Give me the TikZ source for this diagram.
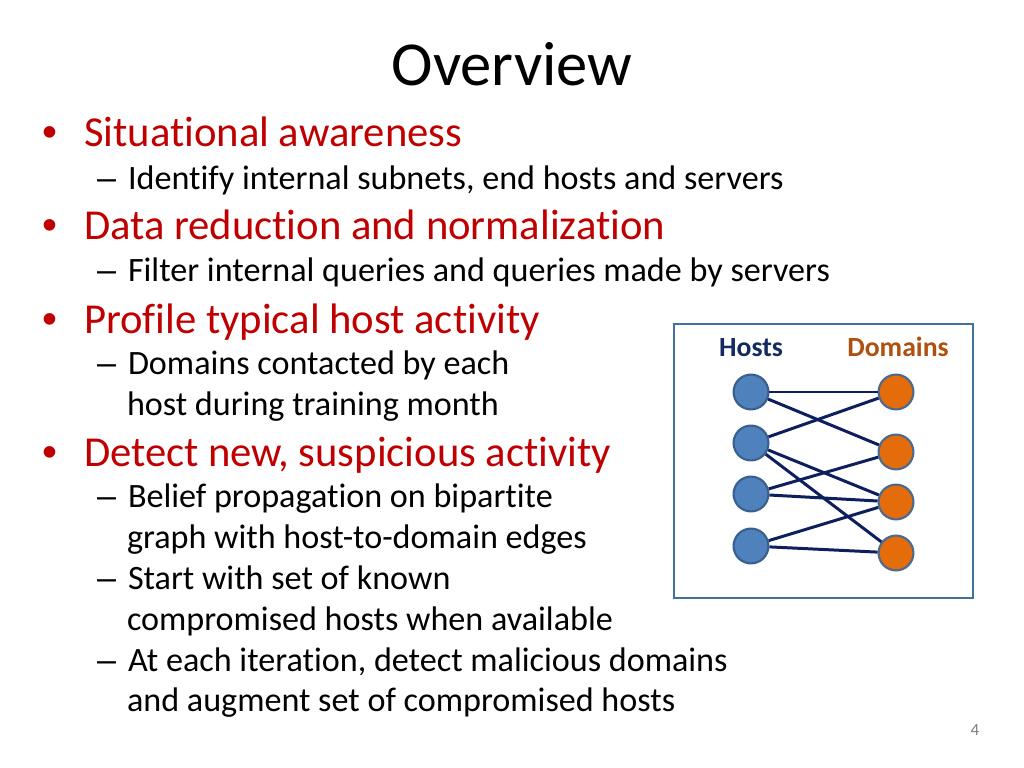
\documentclass[tikz,border=0pt]{standalone}
\usepackage{fontspec}
\setmainfont{Carlito}[RawFeature=-liga]
\newfontfamily\bulfont{Liberation Sans}
\definecolor{redtxt}{HTML}{C00000}
\definecolor{hostcol}{HTML}{4F81BD}
\definecolor{hostbd}{HTML}{3A5F8F}
\definecolor{domcol}{HTML}{E46C0A}
\definecolor{dombd}{HTML}{4A6A8F}
\definecolor{edgecol}{HTML}{0E1F5E}
\definecolor{hostlab}{HTML}{132C60}
\definecolor{domlab}{HTML}{B0500E}
\definecolor{boxbd}{HTML}{41719C}
\begin{document}
\begin{tikzpicture}[x=0.703125pt,y=-0.703125pt,
  txt/.style={anchor=base west,inner sep=0pt,outer sep=0pt},
  lone/.style={txt,text=redtxt,font=\fontsize{30}{36}\selectfont},
  ltwo/.style={txt,text=black,font=\fontsize{24}{29}\selectfont},
  bul/.style={txt,text=redtxt,font=\bulfont\fontsize{30}{36}\selectfont},
  dsh/.style={txt,text=black,font=\bulfont\fontsize{24}{29}\selectfont},
  host/.style={circle,draw=hostbd,line width=1.5pt,fill=hostcol,minimum size=24.5pt,inner sep=0pt},
  dom/.style={circle,draw=dombd,line width=1.5pt,fill=domcol,minimum size=24.5pt,inner sep=0pt},
  edge/.style={draw=edgecol,line width=2.1pt}]
\useasboundingbox (0,0) rectangle (1024,768);
\fill[white] (0,0) rectangle (1024,768);
\node[anchor=base,inner sep=0pt,font=\fontsize{44}{52}\selectfont] (title) at (512,86) {Overview};
% level 1
\node[bul] (b1) at (42,147) {•};
\node[lone] (t1) at (84,147) {Situational awareness};
\node[dsh] (d1) at (97,190) {–};
\node[ltwo] (s1) at (128,190) {Identify internal subnets, end hosts and servers};
\node[bul] (b2) at (42,240) {•};
\node[lone] (t2) at (84,240) {Data reduction and normalization};
\node[dsh] (d2) at (97,282) {–};
\node[ltwo] (s2) at (128,282) {Filter internal queries and queries made by servers};
\node[bul] (b3) at (42,333) {•};
\node[lone] (t3) at (84,333) {Profile typical host activity};
\node[dsh] (d3) at (97,374) {–};
\node[ltwo] (s3) at (128,374) {Domains contacted by each};
\node[ltwo] (s3b) at (127,415) {host during training month};
\node[bul] (b4) at (42,466) {•};
\node[lone] (t4) at (84,466) {Detect new, suspicious activity};
\node[dsh] (d4) at (97,507) {–};
\node[ltwo] (s4) at (128,507) {Belief propagation on bipartite};
\node[ltwo] (s4b) at (127,548) {graph with host-to-domain edges};
\node[dsh] (d5) at (97,589) {–};
\node[ltwo] (s5) at (128,589) {Start with set of known};
\node[ltwo] (s5b) at (127,630) {compromised hosts when available};
\node[dsh] (d6) at (97,671) {–};
\node[ltwo] (s6) at (128,671) {At each iteration, detect malicious domains};
\node[ltwo] (s6b) at (127,711) {and augment set of compromised hosts};
\node[anchor=base,inner sep=0pt,text=gray,font=\fontsize{12}{14}\selectfont] (pg) at (975,735) {4};
% graph box
\draw[boxbd,line width=1.5pt] (674,324) rectangle (973,598);
\node[anchor=base,inner sep=0pt,text=hostlab,font=\bfseries\fontsize{19.5}{23}\selectfont] (hl) at (751,356) {Hosts};
\node[anchor=base,inner sep=0pt,text=domlab,font=\bfseries\fontsize{19.5}{23}\selectfont] (dl) at (898,356) {Domains};
\node[host] (h1) at (751,392) {};
\node[host] (h2) at (751,443) {};
\node[host] (h3) at (751,494) {};
\node[host] (h4) at (751,546) {};
\node[dom] (o1) at (896,392) {};
\node[dom] (o2) at (896,452) {};
\node[dom] (o3) at (896,502) {};
\node[dom] (o4) at (896,553) {};
\draw[edge] (h1) -- (o1);
\draw[edge] (h1) -- (o2);
\draw[edge] (h2) -- (o1);
\draw[edge] (h2) -- (o3);
\draw[edge] (h2) -- (o4);
\draw[edge] (h3) -- (o2);
\draw[edge] (h3) -- (o3);
\draw[edge] (h4) -- (o3);
\draw[edge] (h4) -- (o4);
\end{tikzpicture}
\end{document}
